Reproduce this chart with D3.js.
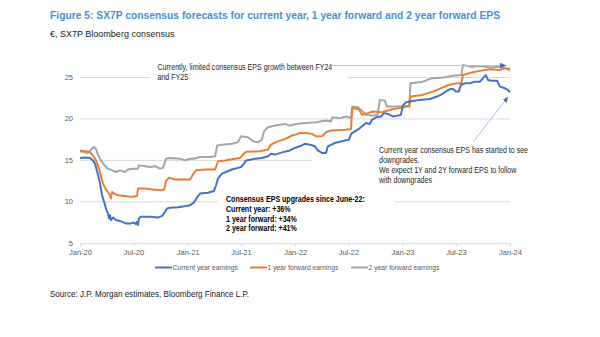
<!DOCTYPE html>
<html>
<head>
<meta charset="utf-8">
<script src="https://cdn.jsdelivr.net/npm/d3@7"></script>
<style>
  html, body { margin: 0; padding: 0; background: #fff; }
  svg { display: block; }
  text { font-family: 'Liberation Sans Narrow', 'Arial Narrow', 'Liberation Sans', Arial, sans-serif; }
</style>
</head>
<body>
<svg id="chart" width="600" height="337"></svg>
<script>
// SX7P consensus EPS (EUR), read as [date, value]
const currentYear = [
  ['2020-01-01',15.3],['2020-01-18',15.35],['2020-02-04',15.3],['2020-02-14',15.0],['2020-02-21',14.6],
  ['2020-03-02',13.3],['2020-03-09',12.2],['2020-03-16',10.8],['2020-03-23',10.0],['2020-03-29',9.2],
  ['2020-04-05',8.6],['2020-04-09',8.0],['2020-04-12',8.4],['2020-04-15',7.8],['2020-04-22',8.1],
  ['2020-05-02',7.8],['2020-05-16',7.7],['2020-06-05',7.4],['2020-06-22',7.4],['2020-07-02',7.5],
  ['2020-07-09',7.3],['2020-07-13',7.6],['2020-07-16',7.2],['2020-07-19',8.0],['2020-07-26',8.2],
  ['2020-08-26',8.2],['2020-09-22',8.1],['2020-10-06',8.3],['2020-10-16',8.8],['2020-10-23',9.2],
  ['2020-11-02',9.3],['2020-11-29',9.35],['2020-12-26',9.5],['2021-01-09',9.6],['2021-01-22',9.9],
  ['2021-02-01',10.5],['2021-02-12',11.0],['2021-03-11',11.1],['2021-03-31',11.3],['2021-04-07',12.0],
  ['2021-04-14',12.8],['2021-04-27',13.4],['2021-05-11',13.6],['2021-05-31',13.9],['2021-06-21',14.1],
  ['2021-07-01',14.2],['2021-07-11',14.6],['2021-07-18',15.0],['2021-08-17',15.2],['2021-09-10',15.3],
  ['2021-10-01',15.5],['2021-10-11',15.8],['2021-10-24',15.7],['2021-11-21',16.0],['2021-12-14',16.2],
  ['2021-12-28',16.45],['2022-01-17',16.7],['2022-02-03',17.0],['2022-02-20',16.9],['2022-03-09',16.7],
  ['2022-03-19',16.2],['2022-04-02',15.9],['2022-04-16',15.9],['2022-04-22',16.7],['2022-05-16',17.1],
  ['2022-06-19',17.4],['2022-07-03',17.5],['2022-07-10',18.2],['2022-07-27',18.6],['2022-08-09',18.9],
  ['2022-08-30',19.5],['2022-09-12',19.4],['2022-09-19',19.9],['2022-10-03',20.2],['2022-10-20',20.3],
  ['2022-10-30',20.7],['2022-11-12',20.6],['2022-11-29',20.3],['2022-12-16',20.4],['2022-12-26',20.5],
  ['2023-01-02',21.6],['2023-01-12',22.0],['2023-01-26',22.1],['2023-03-01',22.3],['2023-04-04',22.4],
  ['2023-04-28',22.7],['2023-05-15',23.0],['2023-06-01',23.4],['2023-06-11',23.6],['2023-06-21',23.6],
  ['2023-07-01',23.3],['2023-07-11',23.3],['2023-07-18',24.1],['2023-08-01',24.3],['2023-08-18',24.3],
  ['2023-09-04',24.5],['2023-09-21',24.5],['2023-10-01',24.9],['2023-10-11',25.3],['2023-10-18',24.7],
  ['2023-11-01',24.6],['2023-11-18',24.6],['2023-11-28',23.9],['2023-12-15',23.7],['2023-12-25',23.5],
  ['2024-01-01',23.2]
];

const oneYearFwd = [
  ['2020-01-01',16.2],['2020-01-21',16.1],['2020-02-04',16.0],['2020-02-14',15.6],['2020-02-24',15.0],
  ['2020-03-06',14.0],['2020-03-13',13.0],['2020-03-19',12.2],['2020-03-29',11.5],['2020-04-09',11.0],
  ['2020-04-15',10.4],['2020-04-19',11.2],['2020-04-25',11.0],['2020-05-09',10.8],['2020-06-02',10.7],
  ['2020-06-25',10.6],['2020-07-13',10.7],['2020-07-16',11.6],['2020-08-09',11.6],['2020-09-02',11.5],
  ['2020-09-29',11.4],['2020-10-13',11.5],['2020-10-19',12.5],['2020-10-29',12.9],['2020-11-19',12.7],
  ['2020-12-23',12.7],['2021-01-09',12.7],['2021-01-19',13.3],['2021-01-29',13.8],['2021-03-01',13.9],
  ['2021-04-04',13.9],['2021-04-14',14.9],['2021-05-08',15.0],['2021-06-11',15.2],['2021-06-28',15.3],
  ['2021-07-11',15.8],['2021-07-18',16.05],['2021-09-03',16.1],['2021-09-30',16.3],['2021-10-11',16.9],
  ['2021-10-28',17.2],['2021-11-28',17.6],['2021-12-22',18.0],['2022-01-10',18.2],['2022-01-17',18.3],
  ['2022-02-07',18.3],['2022-02-27',18.2],['2022-03-13',17.9],['2022-04-02',17.9],['2022-04-16',18.4],
  ['2022-05-03',18.6],['2022-06-22',18.7],['2022-07-10',18.8],['2022-07-14',21.3],['2022-08-05',21.2],
  ['2022-08-16',20.5],['2022-09-05',20.7],['2022-09-22',20.9],['2022-10-20',20.8],['2022-11-10',21.0],
  ['2022-12-01',21.2],['2022-12-20',21.3],['2023-01-15',21.5],['2023-01-24',21.5],['2023-01-28',22.7],
  ['2023-03-10',22.9],['2023-04-14',23.3],['2023-05-05',23.6],['2023-06-06',24.1],['2023-07-05',24.3],
  ['2023-07-20',24.3],['2023-07-25',25.3],['2023-08-25',25.6],['2023-09-20',25.8],['2023-10-25',26.0],
  ['2023-11-25',25.9],['2023-12-15',26.1],['2024-01-01',25.9]
];

const twoYearFwd = [
  ['2020-01-01',16.1],['2020-01-14',16.0],['2020-01-28',15.9],['2020-02-10',16.4],['2020-02-17',16.6],
  ['2020-02-24',16.4],['2020-03-02',15.7],['2020-03-12',15.0],['2020-03-22',14.5],['2020-04-05',14.0],
  ['2020-04-19',13.8],['2020-05-02',13.6],['2020-05-16',13.8],['2020-06-02',13.6],['2020-06-12',13.9],
  ['2020-06-29',14.0],['2020-07-16',14.0],['2020-07-19',14.4],['2020-08-09',14.3],['2020-08-26',14.2],
  ['2020-09-12',14.3],['2020-09-29',14.0],['2020-10-09',14.1],['2020-10-19',15.2],['2020-11-02',15.3],
  ['2020-12-06',15.2],['2020-12-23',15.0],['2021-01-09',15.2],['2021-01-22',15.2],['2021-02-12',15.4],
  ['2021-03-18',15.4],['2021-04-04',15.5],['2021-04-11',16.8],['2021-04-27',16.9],['2021-06-01',17.0],
  ['2021-06-21',17.2],['2021-07-01',17.9],['2021-07-25',17.8],['2021-08-11',17.3],['2021-08-28',17.2],
  ['2021-09-10',17.5],['2021-09-17',18.5],['2021-10-01',19.0],['2021-10-24',19.2],['2021-11-28',19.4],
  ['2021-12-14',19.2],['2022-01-05',19.4],['2022-02-07',19.5],['2022-03-13',19.6],['2022-04-16',19.8],
  ['2022-05-03',19.7],['2022-05-07',20.2],['2022-06-01',20.1],['2022-06-25',20.3],['2022-07-10',20.1],
  ['2022-07-14',21.5],['2022-08-02',21.4],['2022-08-16',21.0],['2022-08-30',20.5],['2022-09-22',20.4],
  ['2022-10-08',20.5],['2022-10-16',22.3],['2022-11-02',22.2],['2022-11-08',21.5],['2022-12-20',21.5],
  ['2023-01-20',21.6],['2023-01-24',21.7],['2023-01-28',24.3],['2023-03-10',24.5],['2023-04-10',24.9],
  ['2023-05-20',25.0],['2023-06-20',25.2],['2023-07-20',25.3],['2023-07-25',26.5],['2023-08-25',26.3],
  ['2023-09-25',26.4],['2023-10-25',26.2],['2023-11-25',26.3],['2023-12-20',26.1],['2024-01-01',26.1]
];

const seriesNames  = ['Current year earnings', '1 year forward earnings', '2 year forward earnings'];
const seriesColors = ['#4472c4', '#ed7d31', '#a5a5a5'];
const yTicks = [5, 10, 15, 20, 25];

const titleText = 'Figure 5: SX7P consensus forecasts for current year, 1 year forward and 2 year forward EPS';
const subtitleText = '€, SX7P Bloomberg consensus';
const sourceText = 'Source: J.P. Morgan estimates, Bloomberg Finance L.P.';
const noteTop = ['Currently, limited consensus EPS growth between FY24', 'and FY25'];
const noteRight = ['Current year consensus EPS has started to see', 'downgrades.',
                   'We expect 1Y and 2Y forward EPS to follow', 'with downgrades'];
const noteUpgrades = ['Consensus EPS upgrades since June-22:', 'Current year: +36%',
                      '1 year forward: +34%', '2 year forward: +41%'];

const svg = d3.select('#chart');
const parse = d3.timeParse('%Y-%m-%d');
const series = [currentYear, oneYearFwd, twoYearFwd].map(s => s.map(([d, v]) => ({date: parse(d), value: v})));

const x = d3.scaleTime().domain([new Date(2020, 0, 1), new Date(2024, 0, 1)]).range([80, 510]);
const y = d3.scaleLinear().domain([5, 25]).range([243.3, 77.5]);

// no narrow face installed, so squeeze the regular one horizontally
function condense(sel, k) {
  sel.each(function() {
    const w = this.getComputedTextLength();
    d3.select(this).attr('textLength', w * k).attr('lengthAdjust', 'spacingAndGlyphs');
  });
  return sel;
}

svg.append('rect').attr('width', 600).attr('height', 337).attr('fill', '#fff');

// headings
svg.append('text').attr('x', 50).attr('y', 19).attr('fill', '#4a8fd6')
  .attr('font-size', 11.5).attr('font-weight', 'bold').text(titleText)
  .attr('textLength', 450).attr('lengthAdjust', 'spacingAndGlyphs');
svg.append('text').attr('x', 50).attr('y', 36.5).attr('fill', '#1a1a1a')
  .attr('font-size', 9).text(subtitleText);
svg.append('text').attr('x', 50).attr('y', 296.5).attr('fill', '#1a1a1a')
  .attr('font-size', 9).text(sourceText)
  .attr('textLength', 199).attr('lengthAdjust', 'spacingAndGlyphs');

// gridlines
svg.append('g').selectAll('line').data(yTicks.slice(1)).join('line')
  .attr('x1', 80).attr('x2', 510).attr('y1', d => y(d)).attr('y2', d => y(d))
  .attr('stroke', '#d9d9d9').attr('stroke-width', 1);

// y labels
svg.append('g').selectAll('text').data(yTicks).join('text')
  .attr('x', 73).attr('y', d => y(d) + 2.5).attr('text-anchor', 'end')
  .attr('font-size', 7.5).attr('fill', '#595959').text(d => d);

// x axis
const xAxis = d3.axisBottom(x).ticks(d3.timeMonth.every(6)).tickFormat(d3.timeFormat('%b-%y'))
  .tickSize(3).tickPadding(3);
const gx = svg.append('g').attr('transform', `translate(0,${y(5)})`).call(xAxis);
gx.select('.domain').attr('stroke', '#d9d9d9');
gx.selectAll('.tick line').attr('stroke', '#d9d9d9');
gx.selectAll('.tick text').attr('fill', '#595959').attr('font-size', 7.5)
  .style('font-family', "'Liberation Sans Narrow','Arial Narrow','Liberation Sans',Arial,sans-serif");

// white label boxes sit over the gridlines but under the lines
const boxes = [[150, 60, 198, 25], [312, 143, 228, 45], [218, 193, 177, 40]];
svg.append('g').selectAll('rect').data(boxes).join('rect')
  .attr('x', d => d[0]).attr('y', d => d[1]).attr('width', d => d[2]).attr('height', d => d[3])
  .attr('fill', '#fff');

// series
const line = d3.line().x(d => x(d.date)).y(d => y(d.value));
svg.append('g').selectAll('path').data(series.slice().reverse()).join('path')
  .attr('d', line).attr('fill', 'none')
  .attr('stroke', (d, i) => seriesColors[2 - i]).attr('stroke-width', 2)
  .attr('stroke-linejoin', 'round');

// annotations
const defs = svg.append('defs');
defs.append('marker').attr('id', 'arrow').attr('viewBox', '0 0 10 10')
  .attr('refX', 9).attr('refY', 5).attr('markerWidth', 6).attr('markerHeight', 6)
  .attr('orient', 'auto')
  .append('path').attr('d', 'M0,1 L10,5 L0,9 Z').attr('fill', '#4472c4');

svg.append('line').attr('x1', 333).attr('y1', 65.5).attr('x2', 506).attr('y2', 65.5)
  .attr('stroke', '#a9c1e8').attr('stroke-width', 1.2).attr('marker-end', 'url(#arrow)');
svg.append('line').attr('x1', 473).attr('y1', 142).attr('x2', 508).attr('y2', 97)
  .attr('stroke', '#a9c1e8').attr('stroke-width', 1).attr('marker-end', 'url(#arrow)');

function textBlock(lines, x0, y0, step, opts) {
  return svg.append('g').selectAll('text').data(lines).join('text')
    .attr('x', x0).attr('y', (d, i) => y0 + i * step)
    .attr('font-size', opts.size).attr('font-weight', opts.weight || 'normal')
    .attr('fill', opts.fill || '#262626').text(d => d);
}
condense(textBlock(noteTop, 157.5, 70.3, 10, {size: 8.5}), 0.83);
condense(textBlock(noteRight, 379, 153, 10, {size: 8.5}), 0.83);
condense(textBlock(noteUpgrades, 226, 202.3, 9.7, {size: 8.5, weight: 'bold', fill: '#000'}), 0.83);

// legend
const legend = svg.append('g').selectAll('g').data(seriesNames).join('g')
  .attr('transform', (d, i) => `translate(${[155, 250, 351][i]},267.5)`);
legend.append('line').attr('x1', 0).attr('x2', 17).attr('stroke', (d, i) => seriesColors[i]).attr('stroke-width', 2);
condense(legend.append('text').attr('x', 17.5).attr('y', 2.6).attr('font-size', 7.5)
  .attr('fill', '#595959').text(d => d), 0.9);
</script>
</body>
</html>
